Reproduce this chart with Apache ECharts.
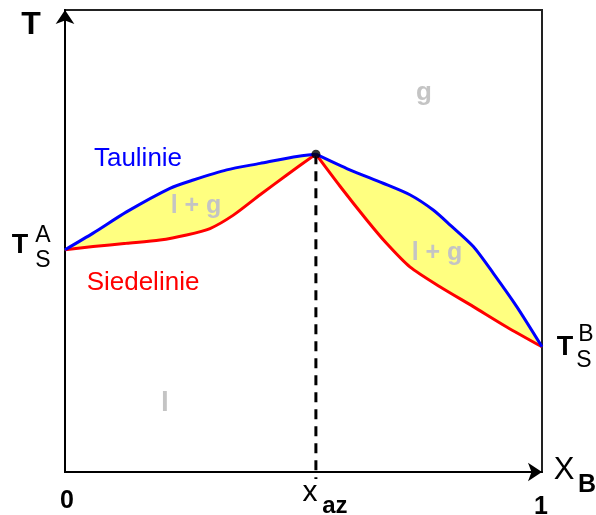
<!DOCTYPE html>
<html><head><meta charset="utf-8">
<script src="https://cdn.jsdelivr.net/npm/echarts@6/dist/echarts.min.js"></script>
<style>html,body{margin:0;padding:0;background:#fff}#c{width:596px;height:515px}</style>
</head><body><div id="c"></div>
<script>
// Key points
const xAz = 0.526, TAz = 68.8, TSA = 48.1, TSB = 27.1;
// Taulinie (dew line)
const tauX = [0, 0.059, 0.129, 0.220, 0.269, 0.339, 0.409, 0.479, 0.526, 0.597, 0.667, 0.723, 0.772, 0.807, 0.856, 0.898, 0.947, 1];
const tauT = [48.1, 51.7, 56.3, 61.4, 63.2, 65.4, 66.8, 68.2, 68.8, 65.4, 62.5, 60.0, 56.7, 53.5, 48.8, 43.0, 35.8, 27.1];
// Siedelinie (boiling line)
const siedeX = [0, 0.059, 0.129, 0.199, 0.255, 0.304, 0.353, 0.409, 0.465, 0.526, 0.577, 0.633, 0.674, 0.723, 0.786, 0.856, 0.926, 1];
const siedeT = [48.1, 48.8, 49.5, 50.2, 51.3, 52.7, 55.6, 60.0, 64.3, 68.8, 61.8, 54.5, 49.5, 44.4, 40.1, 35.8, 31.4, 27.1];

const tau = tauX.map((x, i) => [x, tauT[i]]);
const siede = siedeX.map((x, i) => [x, siedeT[i]]);
const lens = tau.concat(siede.slice().reverse());
const tauL = tau.filter(p => p[0] <= xAz), tauR = tau.filter(p => p[0] >= xAz);
const siedeL = siede.filter(p => p[0] <= xAz), siedeR = siede.filter(p => p[0] >= xAz);

const FONT = "Liberation Sans";
const chart = echarts.init(document.getElementById('c'), null, {renderer: 'canvas'});
const axisCommon = {
  type: 'value', splitLine: {show: false}, axisLabel: {show: false}, axisTick: {show: false},
  axisLine: {show: true, onZero: false, symbol: ['none', 'arrow'], symbolSize: [14, 14], lineStyle: {color: '#000', width: 2}}
};
function curve(data, color, z) {
  return {type: 'line', data: data, symbol: 'none', smooth: 0.25, z: z, lineStyle: {color: color, width: 3}};
}
chart.setOption({
  animation: false,
  grid: {left: 65, right: 54, top: 10, bottom: 43, show: true, borderColor: '#222', borderWidth: 2, backgroundColor: 'transparent'},
  xAxis: Object.assign({min: 0, max: 1}, axisCommon),
  yAxis: Object.assign({min: 0, max: 100}, axisCommon),
  series: [
    {type: 'custom', data: [0], z: 1, renderItem: function (params, api) {
      return {type: 'polygon', shape: {points: lens.map(p => api.coord(p))}, style: {fill: '#ffff80', stroke: 'none'}};
    }},
    {type: 'line', data: [[xAz, TAz], [xAz, -1.5]], clip: false, symbol: 'none', z: 2,
     lineStyle: {color: '#000', width: 3, type: [10, 7]}},
    {type: 'line', data: [[-0.017, TSA], [0, TSA]], clip: false, symbol: 'none', lineStyle: {color: '#333', width: 2}},
    {type: 'line', data: [[1, TSB], [1.018, TSB]], clip: false, symbol: 'none', lineStyle: {color: '#333', width: 2}},
    curve(siedeL, '#ff0000', 3), curve(siedeR, '#ff0000', 3),
    curve(tauL, '#0000ff', 4), curve(tauR, '#0000ff', 4),
    {type: 'scatter', data: [[xAz, TAz]], symbolSize: 9, z: 5, itemStyle: {color: '#000'}}
  ]
});

function P(x, y) { return chart.convertToPixel({gridIndex: 0}, [x, y]); }
function txt(x, y, text, size, color, bold) {
  return {type: 'text', x: x, y: y, z: 100, style: {text: text, fill: color, align: 'center', verticalAlign: 'middle',
    fontSize: size, fontWeight: bold ? 'bold' : 'normal', fontFamily: FONT}};
}
const pA = P(0, TSA), pB = P(1, TSB), pAz = P(xAz, 0), p0 = P(0, 0), p1 = P(1, 0);
const gray = '#c4c4c4';
chart.setOption({graphic: [
  txt(31, 25, 'T', 32, '#000', true),
  txt(424, 93, 'g', 26, gray, true),
  txt(196, 206, 'l + g', 25, gray, true),
  txt(437, 253, 'l + g', 25, gray, true),
  txt(165, 403, 'l', 28, gray, true),
  txt(138, 159, 'Taulinie', 26, '#0000ff', false),
  txt(143, 283, 'Siedelinie', 26, '#ff0000', false),
  txt(pA[0] - 45, pA[1] - 4, 'T', 27, '#000', true),
  txt(pA[0] - 22, pA[1] - 14, 'A', 23, '#000', false),
  txt(pA[0] - 22, pA[1] + 11, 'S', 23, '#000', false),
  txt(pB[0] + 23, pB[1] + 1, 'T', 27, '#000', true),
  txt(pB[0] + 44, pB[1] - 12, 'B', 23, '#000', false),
  txt(pB[0] + 42, pB[1] + 14, 'S', 23, '#000', false),
  txt(p0[0] + 2, p0[1] + 29, '0', 25, '#000', true),
  txt(p1[0] - 1, p1[1] + 35, '1', 25, '#000', true),
  txt(pAz[0] - 6, pAz[1] + 21, 'x', 30, '#000', false),
  txt(pAz[0] + 19, pAz[1] + 34, 'az', 24, '#000', true),
  txt(p1[0] + 22, p1[1] - 2, 'X', 31, '#000', false),
  txt(p1[0] + 45, p1[1] + 13, 'B', 25, '#000', true)
]});
</script></body></html>
